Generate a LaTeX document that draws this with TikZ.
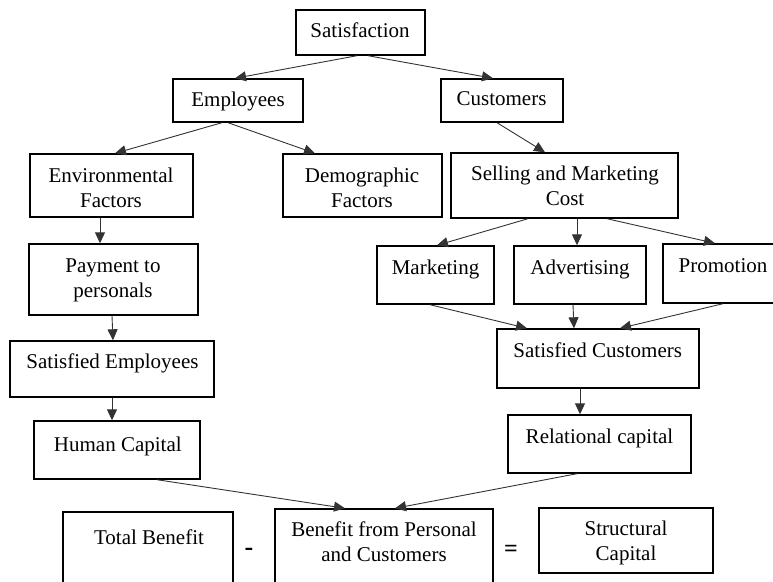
\documentclass[tikz,border=0pt]{standalone}
\usepackage{fontspec}
\setmainfont{Liberation Serif}
\usetikzlibrary{arrows.meta}
\begin{document}
\begin{tikzpicture}[x=1pt,y=-1pt,
  box/.style={draw=black, line width=1.4pt, rectangle, inner sep=0pt, fill=white},
  txt/.style={inner sep=0pt, anchor=base, align=center, font=\fontsize{21}{25}\selectfont},
  conn/.style={draw=black!80, line width=0.9pt, -{Triangle[length=11pt,width=10pt]}}]
\useasboundingbox (0,0) rectangle (773,581);
\clip (0,0) rectangle (773,581);
% boxes
\node[box, minimum width=129pt, minimum height=45pt] (sat) at (360.5,32.5) {};
\node[box, minimum width=130pt, minimum height=43pt] (emp) at (238,100.5) {};
\node[box, minimum width=122pt, minimum height=43pt] (cus) at (502,100.5) {};
\node[box, minimum width=163pt, minimum height=63pt] (env) at (111.5,185.5) {};
\node[box, minimum width=159pt, minimum height=63pt] (dem) at (362.5,185.5) {};
\node[box, minimum width=227pt, minimum height=65pt] (sel) at (564.5,185.5) {};
\node[box, minimum width=169pt, minimum height=71pt] (pay) at (113.5,279.5) {};
\node[box, minimum width=117pt, minimum height=58pt] (mkt) at (435.5,275) {};
\node[box, minimum width=132pt, minimum height=58pt] (adv) at (580,275) {};
\node[box, minimum width=117pt, minimum height=59pt] (pro) at (721.5,273.5) {};
\node[box, minimum width=204pt, minimum height=56pt] (se) at (112,369) {};
\node[box, minimum width=202pt, minimum height=59pt] (sc) at (598,358.5) {};
\node[box, minimum width=166pt, minimum height=58pt] (hc) at (117,450) {};
\node[box, minimum width=183pt, minimum height=58pt] (rc) at (599.5,444) {};
\node[box, minimum width=170pt, minimum height=78pt] (tb) at (148,551) {};
\node[box, minimum width=218pt, minimum height=81pt] (bf) at (384,549.5) {};
\node[box, minimum width=174pt, minimum height=65pt] (st) at (626,540.5) {};
% texts (base anchor = baseline of the last line)
\node[txt] (tsat) at (360,37) {Satisfaction};
\node[txt] (temp) at (238,106) {Employees};
\node[txt] (tcus) at (501.5,105) {Customers};
\node[txt] (tenv) at (111,207) {Environmental\\Factors};
\node[txt] (tdem) at (362,207) {Demographic\\Factors};
\node[txt] (tsel) at (565,205) {Selling and Marketing\\Cost};
\node[txt] (tpay) at (113,297) {Payment to\\personals};
\node[txt] (tmkt) at (435.5,274) {Marketing};
\node[txt] (tadv) at (580,274) {Advertising};
\node[txt] (tpro) at (723,272) {Promotion};
\node[txt] (tse) at (112.5,368) {Satisfied Employees};
\node[txt] (tsc) at (597.7,357) {Satisfied Customers};
\node[txt] (thc) at (117.8,451) {Human Capital};
\node[txt] (trc) at (599.5,443) {Relational capital};
\node[txt] (ttb) at (149,544) {Total Benefit};
\node[txt] (tbf) at (384,561) {Benefit from Personal\\and Customers};
\node[txt] (tst) at (626,560) {Structural\\Capital};
\node[txt, anchor=center, font=\fontsize{26}{26}\selectfont\bfseries] (minus) at (249,552) {-};
\node[txt, anchor=center, font=\fontsize{24}{26}\selectfont\bfseries] (eq) at (511,551) {=};
% connectors
\draw[conn] ([xshift=-3.5pt]sat.south) -- ([xshift=-3pt]emp.north);
\draw[conn] ([xshift=7.5pt]sat.south) -- ([xshift=-9pt]cus.north);
\draw[conn] ([xshift=-16pt]emp.south) -- ([xshift=3.5pt]env.north);
\draw[conn] ([xshift=-10pt]emp.south) -- ([xshift=-47.5pt]dem.north);
\draw[conn] ([xshift=-5pt]cus.south) -- ([xshift=-19.5pt]sel.north);
\draw[conn] ([xshift=-36.5pt]sel.south) -- ([xshift=1.5pt]mkt.north);
\draw[conn] ([xshift=12.5pt]sel.south) -- ([xshift=-3pt]adv.north);
\draw[conn] ([xshift=42.5pt]sel.south) -- ([xshift=-6.5pt]pro.north);
\draw[conn] ([xshift=-11.5pt]env.south) -- ([xshift=-13.5pt]pay.north);
\draw[conn] ([xshift=-1.5pt]pay.south) -- ([xshift=1pt]se.north);
\draw[conn] ([xshift=-5.5pt]mkt.south) -- ([xshift=-71pt]sc.north);
\draw[conn] ([xshift=-7pt]adv.south) -- ([xshift=-24pt]sc.north);
\draw[conn] ([xshift=1.5pt]pro.south) -- ([xshift=22pt]sc.north);
\draw[conn] (se.south) -- ([xshift=-5pt]hc.north);
\draw[conn] ([xshift=-18pt]sc.south) -- ([xshift=-19.5pt]rc.north);
\draw[conn] ([xshift=40pt]hc.south) -- ([xshift=-39pt]bf.north);
\draw[conn] ([xshift=-22.5pt]rc.south) -- ([xshift=11pt]bf.north);
\end{tikzpicture}
\end{document}
